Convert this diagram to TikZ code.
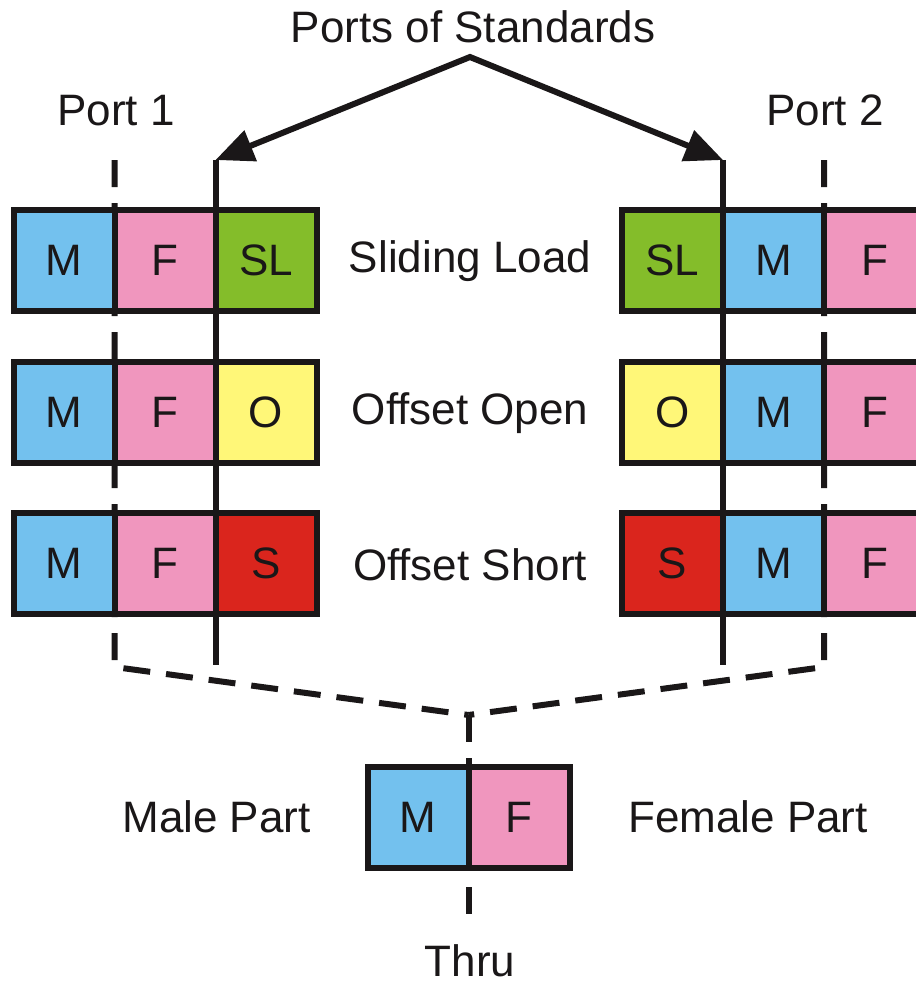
\documentclass[tikz,border=0pt]{standalone}
\usepackage{fontspec}
\setmainfont{Liberation Sans}
\usetikzlibrary{arrows.meta}

\definecolor{ink}{HTML}{1A1718}
\definecolor{maleblue}{HTML}{73C1EE}
\definecolor{femalepink}{HTML}{F096BE}
\definecolor{loadgreen}{HTML}{84BD2A}
\definecolor{openyellow}{HTML}{FFF778}
\definecolor{shortred}{HTML}{DA251D}

\newcommand\biglabel{\fontsize{44}{50}\selectfont}

\begin{document}
\begin{tikzpicture}[x=1pt,y=-1pt,
  cell/.style={draw=ink, line width=6pt, minimum width=101pt, minimum height=101pt,
               inner sep=0pt, font=\biglabel, text=ink},
  malecell/.style={cell, fill=maleblue},
  femalecell/.style={cell, fill=femalepink},
  loadcell/.style={cell, fill=loadgreen},
  opencell/.style={cell, fill=openyellow},
  shortcell/.style={cell, fill=shortred},
  caption/.style={font=\biglabel, text=ink, inner sep=0pt, anchor=base},
  refplane/.style={draw=ink, line width=6pt, line cap=butt},
  portplane/.style={draw=ink, line width=6pt, dash pattern=on 27pt off 16pt,
                    line join=miter},
  pointer/.style={draw=ink, line width=6pt, line join=miter,
                  {Triangle[length=38pt,width=32pt]}-{Triangle[length=38pt,width=32pt]}}
]
\useasboundingbox (0,0) rectangle (916,986);

% captions
\node[caption] (title) at (473,42) {Ports of Standards};
\node[caption] (port1) at (116,125) {Port 1};
\node[caption] (port2) at (825,125) {Port 2};
\node[caption] (slname) at (470,272) {Sliding Load};
\node[caption] (oname) at (470,424) {Offset Open};
\node[caption] (sname) at (470,580) {Offset Short};
\node[caption] (malename) at (216.5,832) {Male Part};
\node[caption] (femalename) at (748,832) {Female Part};
\node[caption] (thruname) at (470,976) {Thru};

% reference points of the port planes
\coordinate (apex) at (470,57);
\coordinate (ref1top) at (215.5,160);
\coordinate (ref1bot) at (215.5,665);
\coordinate (ref2top) at (723,160);
\coordinate (ref2bot) at (723,665);
\coordinate (port1top) at (114.5,160);
\coordinate (port1bot) at (114.5,667);
\coordinate (port2top) at (824,160);
\coordinate (port2bot) at (824,667);
\coordinate (join) at (468.5,715);
\coordinate (thruend) at (468.5,915);

% port planes of the standards (solid) and of the device ports (dashed)
\draw[refplane] (ref1top) -- (ref1bot);
\draw[refplane] (ref2top) -- (ref2bot);
\draw[portplane] (port1top) -- (port1bot) -- (join);
\draw[portplane] (port2top) -- (port2bot) -- (join);
\draw[portplane] (join) -- (thruend);

% pointers to the planes of the standards
\draw[pointer] (ref1top) -- (apex) -- (ref2top);

% port 1 standards
\node[malecell]   (m1a) at (64,260.5) {M};
\node[femalecell] (f1a) at (165,260.5) {F};
\node[loadcell]   (sl1) at (266,260.5) {SL};
\node[malecell]   (m1b) at (64,412.5) {M};
\node[femalecell] (f1b) at (165,412.5) {F};
\node[opencell]   (o1)  at (266,412.5) {O};
\node[malecell]   (m1c) at (64,563.5) {M};
\node[femalecell] (f1c) at (165,563.5) {F};
\node[shortcell]  (s1)  at (266,563.5) {S};

% port 2 standards
\node[loadcell]   (sl2) at (672.5,260.5) {SL};
\node[malecell]   (m2a) at (773.5,260.5) {M};
\node[femalecell] (f2a) at (874.5,260.5) {F};
\node[opencell]   (o2)  at (672.5,412.5) {O};
\node[malecell]   (m2b) at (773.5,412.5) {M};
\node[femalecell] (f2b) at (874.5,412.5) {F};
\node[shortcell]  (s2)  at (672.5,563.5) {S};
\node[malecell]   (m2c) at (773.5,563.5) {M};
\node[femalecell] (f2c) at (874.5,563.5) {F};

% thru
\node[malecell]   (mt) at (418,817.5) {M};
\node[femalecell] (ft) at (519,817.5) {F};
\end{tikzpicture}
\end{document}
